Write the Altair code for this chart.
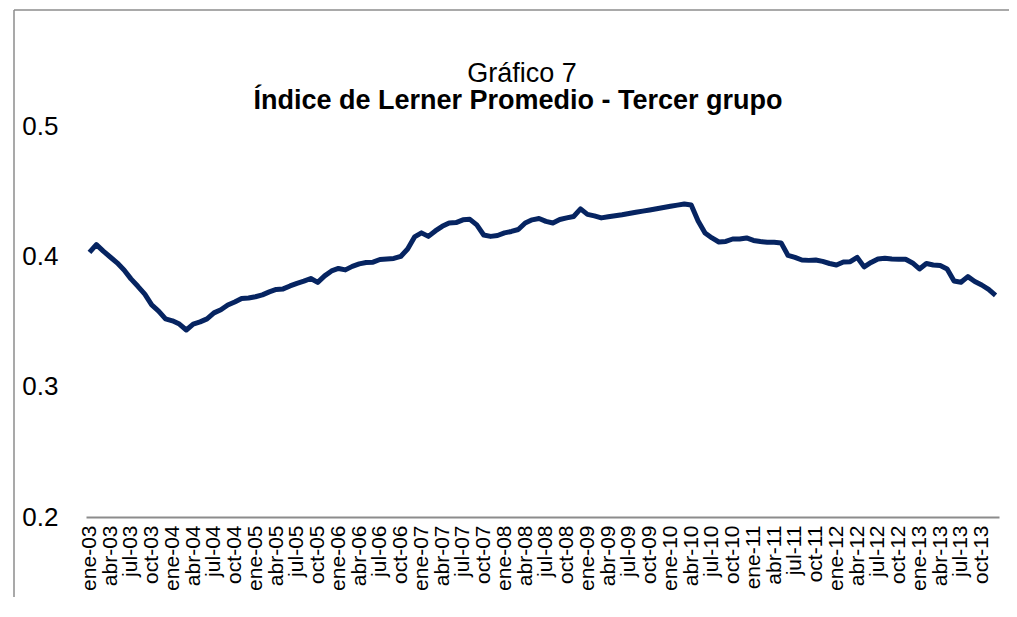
import altair as alt
import pandas as pd

month_names = ["ene", "feb", "mar", "abr", "may", "jun", "jul", "ago", "sep", "oct", "nov", "dic"]
years = ["03", "04", "05", "06", "07", "08", "09", "10", "11", "12", "13"]
periods = [f"{m}-{y}" for y in years for m in month_names]
quarter_labels = [p for i, p in enumerate(periods) if i % 3 == 0]

lerner = [
    0.403, 0.409, 0.404, 0.3995, 0.395, 0.3895, 0.3827, 0.377, 0.371, 0.3627, 0.358, 0.352,
    0.3505, 0.348, 0.3435, 0.348, 0.3497, 0.352, 0.3566, 0.359, 0.3627, 0.365, 0.3677, 0.368,
    0.369, 0.3704, 0.3727, 0.3746, 0.375, 0.3773, 0.3793, 0.381, 0.383, 0.380, 0.385, 0.3888,
    0.3907, 0.3896, 0.3923, 0.3942, 0.3953, 0.3955, 0.3976, 0.398, 0.3984, 0.3999, 0.4056, 0.4149,
    0.418, 0.4153, 0.4195, 0.423, 0.4256, 0.4259, 0.428, 0.4284, 0.4241, 0.4164, 0.4153, 0.416,
    0.418, 0.4191, 0.4206, 0.4256, 0.428, 0.429, 0.4268, 0.4256, 0.4283, 0.4295, 0.4306, 0.4364,
    0.4322, 0.431, 0.4295, 0.4304, 0.4312, 0.4319, 0.4328, 0.4338, 0.4347, 0.4356, 0.4365, 0.4374,
    0.4384, 0.4393, 0.4402, 0.4394, 0.4271, 0.4179, 0.4141, 0.411, 0.4114, 0.4133, 0.4133, 0.4141,
    0.4122, 0.4114, 0.4108, 0.4108, 0.4103, 0.4007, 0.3992, 0.3972, 0.3969, 0.3972, 0.3961, 0.3945,
    0.3934, 0.3957, 0.3959, 0.3992, 0.3919, 0.3953, 0.398, 0.3985, 0.3979, 0.3978, 0.3978, 0.3949,
    0.3903, 0.3945, 0.3934, 0.3929, 0.3903, 0.3811, 0.3801, 0.3844, 0.3807, 0.378, 0.3746, 0.370,
]

y_ticks = [0.2, 0.3, 0.4, 0.5]

title_line1 = "Gráfico 7"
title_line2 = "Índice de Lerner Promedio - Tercer grupo"

df = pd.DataFrame({"periodo": periods, "indice": lerner})

FONT = "Liberation Sans"
W, H = 913, 391

line = alt.Chart(df).mark_line(color="#062461", strokeWidth=5, strokeJoin="round").encode(
    x=alt.X(
        "periodo:O",
        sort=None,
        scale=alt.Scale(type="point", padding=0.5),
        axis=alt.Axis(
            title=None,
            values=quarter_labels,
            labelAngle=270,
            labelAlign="right",
            labelBaseline="middle",
            labelFontSize=21,
            labelFont=FONT,
            labelColor="#000000",
            labelPadding=8,
            ticks=False,
            domainColor="#8c8c8c",
            domainWidth=2,
            labelOverlap=False,
        ),
    ),
    y=alt.Y(
        "indice:Q",
        scale=alt.Scale(domain=[0.2, 0.5], zero=False, nice=False),
        axis=alt.Axis(
            title=None,
            values=y_ticks,
            format=".1f",
            labelFontSize=26,
            labelFont=FONT,
            labelColor="#000000",
            labelPadding=28,
            ticks=False,
            domain=False,
            grid=False,
        ),
    ),
)

single = alt.Data(values=[{"k": 0}])
frame_left = alt.Chart(single).mark_rule(color="#8c8c8c", strokeWidth=1.5).encode(
    x=alt.value(-72), y=alt.value(-116), y2=alt.value(H + 120)
)
frame_top = alt.Chart(single).mark_rule(color="#8c8c8c", strokeWidth=1.5).encode(
    x=alt.value(-72), x2=alt.value(W + 40), y=alt.value(-116)
)
t1 = alt.Chart(single).mark_text(
    text=title_line1, font=FONT, fontSize=27, fontWeight="normal", color="#000000",
    align="center", baseline="middle",
).encode(x=alt.value(436), y=alt.value(-52))
t2 = alt.Chart(single).mark_text(
    text=title_line2, font=FONT, fontSize=27, fontWeight="bold", color="#000000",
    align="center", baseline="middle",
).encode(x=alt.value(432), y=alt.value(-25))

chart = (
    alt.layer(frame_left, frame_top, t1, t2, line)
    .properties(
        width=W,
        height=H,
        padding={"left": 78, "top": 118, "right": 10, "bottom": 80},
        autosize=alt.AutoSizeParams(type="none"),
        background="#ffffff",
    )
    .configure_view(strokeWidth=0)
)

chart.save("out.html", embed_options={"renderer": "svg", "actions": False})
